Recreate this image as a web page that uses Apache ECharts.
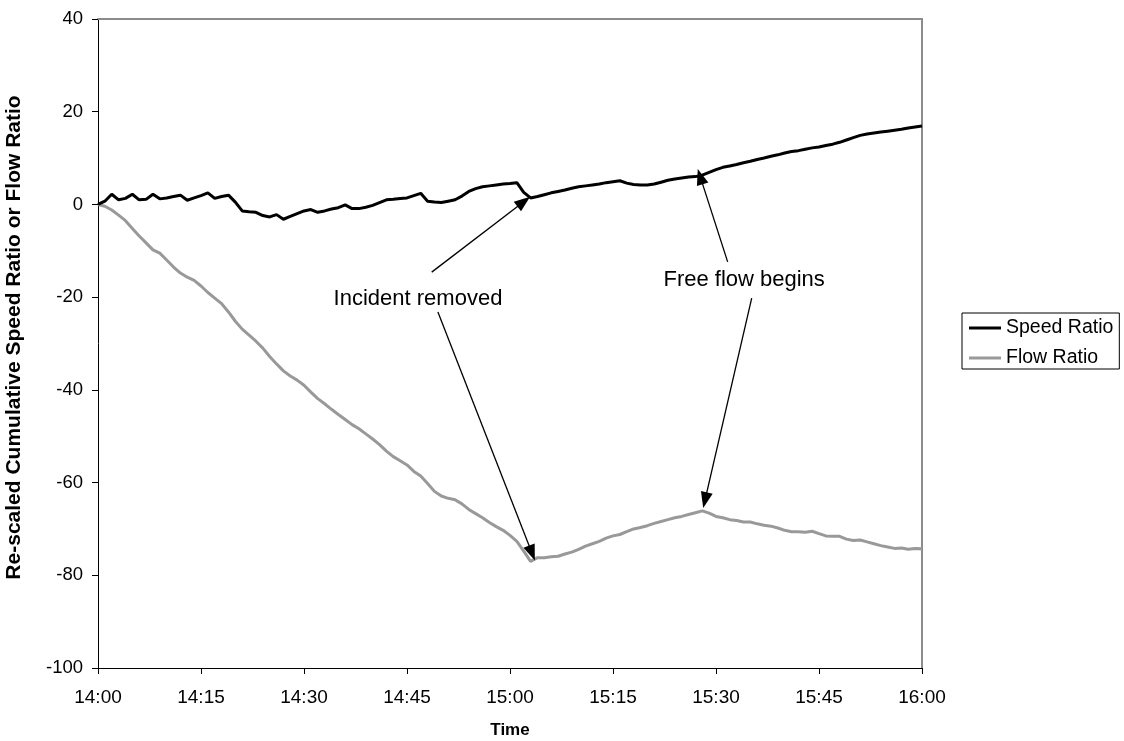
<!DOCTYPE html>
<html>
<head>
<meta charset="utf-8">
<script src="https://cdn.jsdelivr.net/npm/echarts@6/dist/echarts.min.js"></script>
<style>
  html, body { margin: 0; padding: 0; background: #ffffff; }
  #chart { width: 1124px; height: 741px; }
</style>
</head>
<body>
<div id="chart"></div>
<script>
// Sampling: one reading per minute from 14:00 to 16:00
const minutes = Array.from({ length: 121 }, (_, i) => i);

// Re-scaled cumulative speed ratio
const speedRatio = [
  0, 0.7, 2.2, 1.0, 1.3, 2.2, 1.0, 1.1, 2.2, 1.2,
  1.4, 1.7, 2.0, 0.9, 1.4, 1.9, 2.5, 1.3, 1.7, 2.0,
  0.5, -1.4, -1.6, -1.7, -2.4, -2.7, -2.2, -3.2, -2.6, -2.0,
  -1.4, -1.1, -1.7, -1.4, -1.0, -0.7, -0.1, -0.9, -0.9, -0.6,
  -0.2, 0.4, 1.0, 1.1, 1.3, 1.4, 1.9, 2.4, 0.7, 0.5,
  0.4, 0.7, 1.0, 1.8, 2.8, 3.4, 3.8, 4.0, 4.2, 4.4,
  4.5, 4.7, 2.6, 1.4, 1.7, 2.1, 2.5, 2.8, 3.1, 3.5,
  3.8, 4.0, 4.2, 4.4, 4.7, 4.9, 5.1, 4.6, 4.3, 4.2,
  4.2, 4.4, 4.8, 5.2, 5.5, 5.7, 5.9, 6.0, 6.3, 6.9,
  7.5, 8.0, 8.3, 8.6, 9.0, 9.3, 9.7, 10.0, 10.4, 10.7,
  11.1, 11.4, 11.6, 11.9, 12.2, 12.4, 12.7, 13.0, 13.4, 13.9,
  14.4, 14.9, 15.2, 15.4, 15.6, 15.8, 16.0, 16.2, 16.5, 16.7,
  16.9
];

// Re-scaled cumulative flow ratio
const flowRatio = [
  0, -0.4, -1.2, -2.3, -3.5, -5.2, -6.8, -8.3, -9.8, -10.5,
  -12.0, -13.5, -14.8, -15.7, -16.4, -17.6, -19.0, -20.2, -21.4, -23.2,
  -25.2, -26.9, -28.2, -29.5, -31.0, -32.8, -34.4, -35.9, -37.0, -37.9,
  -39.0, -40.5, -41.9, -43.0, -44.2, -45.3, -46.4, -47.5, -48.4, -49.5,
  -50.6, -51.8, -53.2, -54.4, -55.3, -56.2, -57.6, -58.6, -60.2, -61.9,
  -62.9, -63.4, -63.7, -64.6, -65.8, -66.7, -67.6, -68.6, -69.5, -70.3,
  -71.4, -72.7, -74.8, -77.0, -76.2, -76.2, -76.0, -75.9, -75.4, -75.0,
  -74.4, -73.7, -73.2, -72.7, -72.0, -71.5, -71.2, -70.6, -70.0, -69.7,
  -69.3, -68.8, -68.4, -68.0, -67.6, -67.3, -66.9, -66.5, -66.1, -66.6,
  -67.3, -67.6, -68.0, -68.2, -68.5, -68.5, -68.9, -69.2, -69.4, -69.8,
  -70.3, -70.6, -70.6, -70.7, -70.5, -71.0, -71.5, -71.6, -71.6, -72.2,
  -72.5, -72.4, -72.8, -73.2, -73.6, -73.9, -74.2, -74.1, -74.4, -74.2,
  -74.3
];

// Time-of-day labels for the 15-minute ticks
const timeTicks = ['14:00', '14:15', '14:30', '14:45', '15:00', '15:15', '15:30', '15:45', '16:00'];

// Callout texts and their anchor points [minute, value]
const calloutTexts = ['Incident removed', 'Free flow begins'];
const calloutAnchors = [[46.6, -20.4], [94.1, -16.2]];
// Arrows: [from, to] in [minute, value]
const arrows = [
  [[48.6, -14.6], [62.0, 0.6]],
  [[49.5, -23.2], [63.2, -75.2]],
  [[91.7, -12.4], [87.7, 6.0]],
  [[95.2, -20.2], [88.4, -63.8]]
];

const FONT = '"Liberation Sans", Arial, sans-serif';
const chart = echarts.init(document.getElementById('chart'), null, { renderer: 'canvas' });

const option = {
  animation: false,
  backgroundColor: '#ffffff',
  textStyle: { fontFamily: FONT, color: '#000' },
  grid: { left: 98, right: 202, top: 19, bottom: 73, containLabel: false, outerBoundsMode: 'none' },
  legend: {
    orient: 'vertical',
    left: 962,
    top: 313,
    icon: 'rect',
    itemWidth: 32,
    itemHeight: 3,
    itemGap: 10,
    padding: [5, 6, 1, 7],
    borderColor: '#000',
    borderWidth: 1,
    textStyle: { fontFamily: FONT, fontSize: 19.5, color: '#000', lineHeight: 20 },
    data: ['Speed Ratio', 'Flow Ratio']
  },
  xAxis: [
    {
      type: 'value',
      min: 0, max: 120, interval: 15,
      name: 'Time',
      nameLocation: 'middle',
      nameGap: 54,
      nameTextStyle: { fontFamily: FONT, fontSize: 17, fontWeight: 'bold', color: '#000' },
      axisLine: { show: true, onZero: false, lineStyle: { color: '#000', width: 1 } },
      axisTick: { show: true, inside: false, length: 6, lineStyle: { color: '#000' } },
      axisLabel: { fontFamily: FONT, fontSize: 19, color: '#000', margin: 20,
        formatter: v => timeTicks[Math.round(v / 15)] },
      splitLine: { show: false }
    },
    {
      type: 'value', position: 'top', min: 0, max: 120,
      axisLine: { show: true, onZero: false, lineStyle: { color: '#8c8c8c', width: 2 } },
      axisTick: { show: false }, axisLabel: { show: false }, splitLine: { show: false }
    }
  ],
  yAxis: [
    {
      type: 'value',
      min: -100, max: 40, interval: 20,
      name: 'Re-scaled Cumulative Speed Ratio or Flow Ratio',
      nameLocation: 'middle',
      nameGap: 73,
      nameRotate: 90,
      nameTextStyle: { fontFamily: FONT, fontSize: 21, fontWeight: 'bold', color: '#000', padding: [0, 0, 0, 12] },
      axisLine: { show: true, onZero: false, lineStyle: { color: '#000', width: 1 } },
      axisTick: { show: true, inside: false, length: 6, lineStyle: { color: '#000' } },
      axisLabel: { fontFamily: FONT, fontSize: 18.5, color: '#000', margin: 15 },
      splitLine: { show: false }
    },
    {
      type: 'value', position: 'right', min: -100, max: 40,
      axisLine: { show: true, onZero: false, lineStyle: { color: '#8c8c8c', width: 2 } },
      axisTick: { show: false }, axisLabel: { show: false }, splitLine: { show: false }
    }
  ],
  series: [
    {
      name: 'Speed Ratio',
      type: 'line',
      data: minutes.map((m, i) => [m, speedRatio[i]]),
      showSymbol: false,
      symbol: 'none',
      lineStyle: { color: '#000000', width: 3 },
      itemStyle: { color: '#000000' },
      z: 3,
      markLine: {
        silent: true,
        symbol: ['none', 'triangle'],
        symbolSize: [12, 16],
        label: { show: false },
        lineStyle: { color: '#000', width: 1.3, type: 'solid' },
        emphasis: { disabled: true },
        data: arrows.map(a => [{ coord: a[0] }, { coord: a[1] }])
      },
      markPoint: {
        silent: true,
        symbol: 'rect',
        symbolSize: 0,
        label: {
          show: true,
          fontFamily: FONT,
          fontSize: 22,
          color: '#000',
          formatter: p => p.name
        },
        data: calloutTexts.map((t, i) => ({ name: t, coord: calloutAnchors[i] }))
      }
    },
    {
      name: 'Flow Ratio',
      type: 'line',
      data: minutes.map((m, i) => [m, flowRatio[i]]),
      showSymbol: false,
      symbol: 'none',
      lineStyle: { color: '#999999', width: 3 },
      itemStyle: { color: '#999999' },
      z: 2
    }
  ]
};

chart.setOption(option);
</script>
</body>
</html>
